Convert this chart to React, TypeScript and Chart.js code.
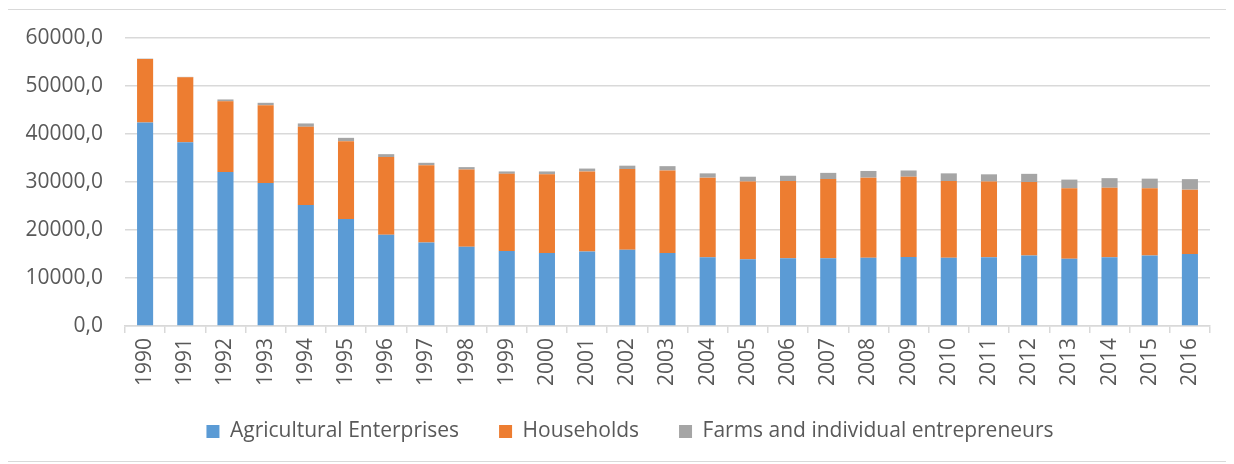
import React, { useEffect, useRef } from "react";
import { Chart, registerables } from "chart.js";

Chart.register(...registerables);

const years = [
  "1990", "1991", "1992", "1993", "1994", "1995", "1996", "1997", "1998", "1999",
  "2000", "2001", "2002", "2003", "2004", "2005", "2006", "2007", "2008", "2009",
  "2010", "2011", "2012", "2013", "2014", "2015", "2016",
];

const agriculturalEnterprises = [
  42400, 38300, 32100, 29800, 25200, 22300, 19000, 17400, 16500, 15600,
  15200, 15500, 15900, 15200, 14300, 13900, 14100, 14100, 14200, 14400,
  14200, 14300, 14700, 14000, 14300, 14700, 15000,
];

const households = [
  13200, 13500, 14700, 16200, 16300, 16200, 16200, 16100, 16100, 16100,
  16400, 16700, 16800, 17200, 16600, 16200, 16100, 16500, 16700, 16700,
  16000, 15800, 15300, 14700, 14500, 14000, 13400,
];

const farms = [
  100, 100, 400, 500, 700, 700, 600, 500, 500, 500,
  600, 600, 700, 900, 900, 1000, 1100, 1300, 1400, 1300,
  1600, 1500, 1700, 1800, 2000, 2000, 2200,
];

const seriesNames = [
  "Agricultural Enterprises",
  "Households",
  "Farms and individual entrepreneurs",
];

const FONT = "'Open Sans', 'DejaVu Sans', sans-serif";
const TEXT = "#595959";
const GRID = "#d9d9d9";

export default function App() {
  const ref = useRef<HTMLCanvasElement | null>(null);

  useEffect(() => {
    if (!ref.current) return;
    const chart = new Chart(ref.current, {
      type: "bar",
      data: {
        labels: years,
        datasets: [
          { label: seriesNames[0], data: agriculturalEnterprises, backgroundColor: "#5B9BD5" },
          { label: seriesNames[1], data: households, backgroundColor: "#ED7D31" },
          { label: seriesNames[2], data: farms, backgroundColor: "#A5A5A5" },
        ],
      },
      options: {
        animation: false,
        responsive: true,
        maintainAspectRatio: false,
        layout: { padding: { top: 28, right: 16, bottom: 9, left: 42 } },
        datasets: { bar: { barPercentage: 0.4, categoryPercentage: 1, borderWidth: 0 } },
        plugins: {
          tooltip: { enabled: false },
          legend: {
            position: "bottom",
            labels: {
              boxWidth: 13,
              boxHeight: 13,
              padding: 40,
              color: TEXT,
              font: { family: FONT, size: 21 },
            },
          },
        },
        scales: {
          x: {
            stacked: true,
            grid: {
              display: true,
              drawOnChartArea: false,
              drawTicks: true,
              tickLength: 7,
              color: GRID,
              lineWidth: 1.5,
              offset: true,
            },
            border: { display: true, color: GRID, width: 1.5 },
            ticks: {
              color: TEXT,
              font: { family: FONT, size: 21 },
              minRotation: 90,
              maxRotation: 90,
              padding: 5,
              autoSkip: false,
            },
            afterFit: (scale: any) => {
              scale.height = 55;
              scale._computeLabelArea = () => null;
            },
          },
          y: {
            stacked: true,
            min: 0,
            max: 60000,
            grid: {
              color: GRID,
              lineWidth: 1.5,
              drawTicks: true,
              tickLength: 19,
              tickColor: "rgba(0,0,0,0)",
            },
            border: { display: false },
            ticks: {
              stepSize: 10000,
              color: TEXT,
              font: { family: FONT, size: 21 },
              padding: 3,
              callback: (v: any) => Number(v).toFixed(1).replace(".", ","),
            },
            afterFit: (scale: any) => {
              scale.width = 75;
              scale._computeLabelArea = () => null;
            },
          },
        },
      },
    });
    return () => chart.destroy();
  }, []);

  return (
    <div
      style={{
        width: 1220,
        height: 453,
        border: "1px solid #d9d9d9",
        boxSizing: "border-box",
        margin: "1px 0 0 -1px",
        background: "#fff",
      }}
    >
      <div style={{ position: "relative", width: 1218, height: 451 }}>
        <canvas ref={ref} />
      </div>
    </div>
  );
}
